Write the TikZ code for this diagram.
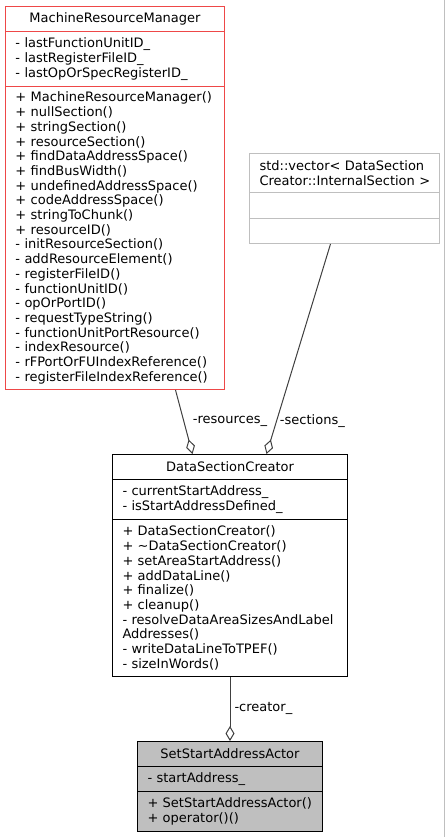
\documentclass[tikz,border=0pt]{standalone}
\usepackage{fontspec}
\setmainfont{DejaVu Sans}
\usetikzlibrary{arrows.meta}
\definecolor{mrmred}{RGB}{238,72,72}
\definecolor{boxgray}{RGB}{191,191,191}
\definecolor{edgegray}{RGB}{64,64,64}
\begin{document}
\begin{tikzpicture}[x=1pt,y=-1pt,
  clspart/.style={draw,line width=1pt,anchor=north west,inner xsep=10pt,inner ysep=0pt,align=left,font=\fontsize{13}{14.7}\selectfont},
  clshead/.style={clspart,align=center},
  agg/.style={draw=edgegray,line width=1pt,{Diamond[open,length=15pt,width=9pt]}-},
  role/.style={anchor=west,inner sep=0pt,font=\fontsize{13}{14.7}\selectfont}]
\useasboundingbox[fill=white](0,0)rectangle(445,837);
\draw[boxgray](444.5,0)--(444.5,837);
% MachineResourceManager
\node[clshead,draw=mrmred,text width=199pt,minimum height=25pt](mrm)at(5,6){MachineResourceManager};
\node[clspart,draw=mrmred,text width=199pt,minimum height=55pt](mrmA)at(5,31){- lastFunctionUnitID\_\\- lastRegisterFileID\_\\- lastOpOrSpecRegisterID\_};
\node[clspart,draw=mrmred,text width=199pt,minimum height=303pt](mrmM)at(5,86){+ MachineResourceManager()\\+ nullSection()\\+ stringSection()\\+ resourceSection()\\+ findDataAddressSpace()\\+ findBusWidth()\\+ undefinedAddressSpace()\\+ codeAddressSpace()\\+ stringToChunk()\\+ resourceID()\\- initResourceSection()\\- addResourceElement()\\- registerFileID()\\- functionUnitID()\\- opOrPortID()\\- requestTypeString()\\- functionUnitPortResource()\\- indexResource()\\- rFPortOrFUIndexReference()\\- registerFileIndexReference()};
% std::vector
\node[clspart,draw=boxgray,text width=170pt,minimum height=39pt](vec)at(249,153){std::vector<~DataSection\\Creator::InternalSection~>};
\node[clspart,draw=boxgray,text width=170pt,minimum height=26pt](vecA)at(249,192){};
\node[clspart,draw=boxgray,text width=170pt,minimum height=25pt](vecM)at(249,218){};
% DataSectionCreator
\node[clshead,text width=215pt,minimum height=25pt](dsc)at(112,454){DataSectionCreator};
\node[clspart,text width=215pt,minimum height=40pt](dscA)at(112,479){- currentStartAddress\_\\- isStartAddressDefined\_};
\node[clspart,text width=215pt,minimum height=157pt](dscM)at(112,519){+ DataSectionCreator()\\+ \textasciitilde DataSectionCreator()\\+ setAreaStartAddress()\\+ addDataLine()\\+ finalize()\\+ cleanup()\\- resolveDataAreaSizesAndLabel\\Addresses()\\- writeDataLineToTPEF()\\- sizeInWords()};
% SetStartAddressActor
\node[clshead,fill=boxgray,text width=165pt,minimum height=25pt](ssa)at(137,741){SetStartAddressActor};
\node[clspart,fill=boxgray,text width=165pt,minimum height=25pt](ssaA)at(137,766){- startAddress\_};
\node[clspart,fill=boxgray,text width=165pt,minimum height=40pt](ssaM)at(137,791){+ SetStartAddressActor()\\+ operator()()};
% aggregations
\draw[agg]([xshift=-37.5pt]dsc.north)--node[role,pos=.51,xshift=8.6pt]{-resources\_}([xshift=60.5pt]mrmM.south);
\draw[agg]([xshift=36.5pt]dsc.north)--node[role,pos=.156,xshift=3pt]{-sections\_}([xshift=-14pt]vecM.south);
\draw[agg](ssa.north)--node[role,pos=.51,xshift=4pt]{-creator\_}(dscM.south);
\end{tikzpicture}
\end{document}
